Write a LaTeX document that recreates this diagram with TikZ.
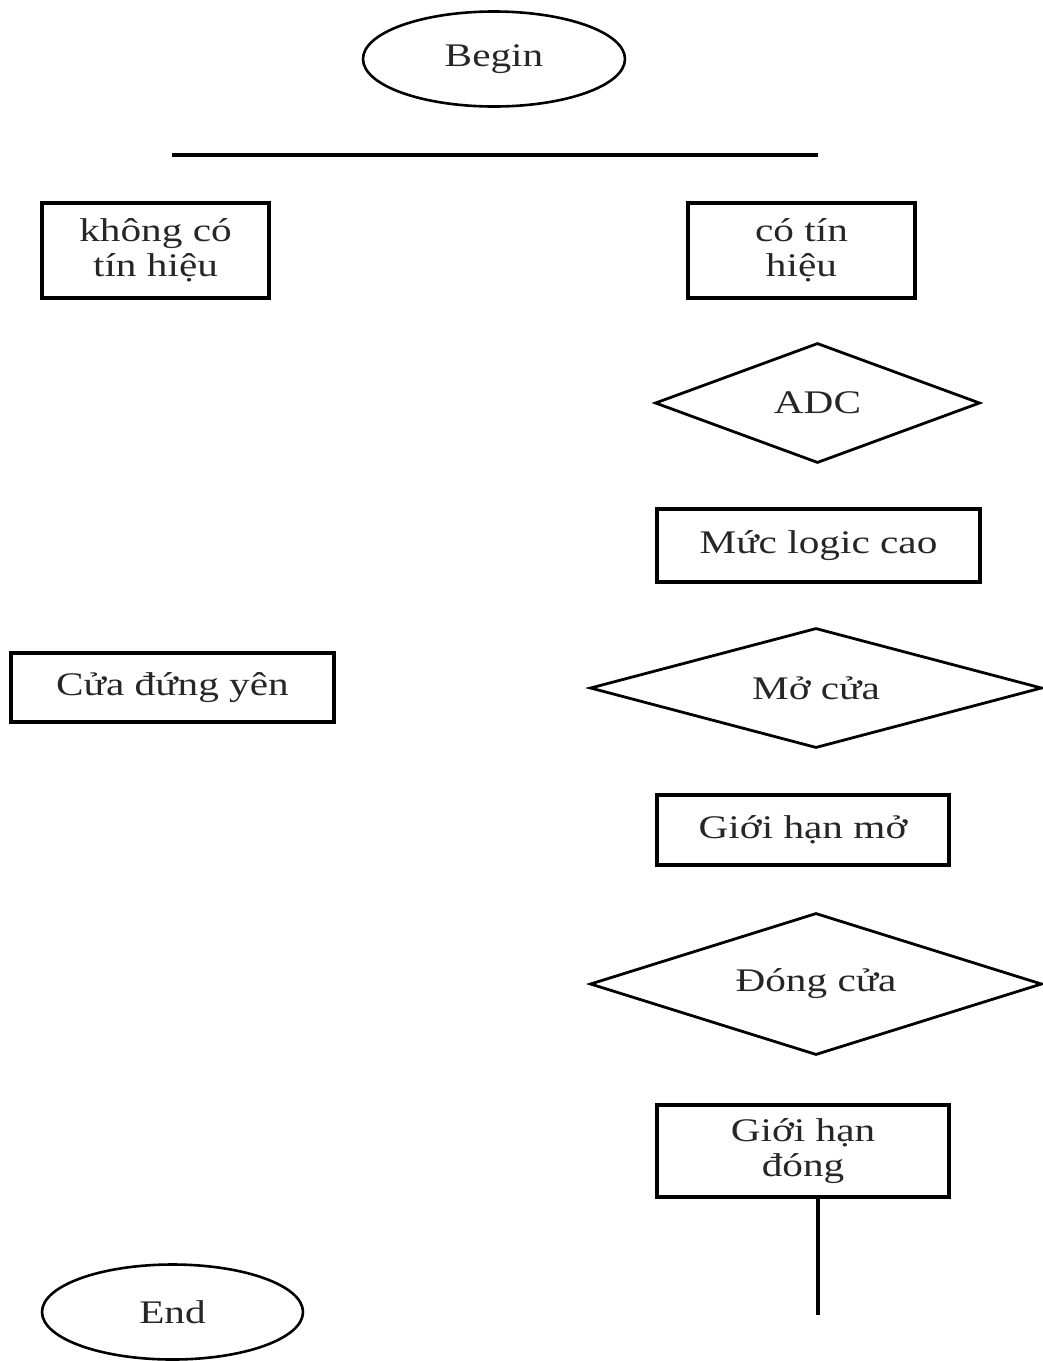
\documentclass[tikz,border=0pt]{standalone}
\usepackage{fontspec}
\setmainfont{Liberation Serif}[FakeStretch=1.25]
\usetikzlibrary{shapes.geometric}
\begin{document}
\begin{tikzpicture}[x=1pt,y=-1pt,
  txt/.style={font=\fontsize{33}{35}\selectfont, align=center, text=black!85},
  boxnode/.style={txt, draw, line width=3.4pt, inner sep=0pt},
  oval/.style={txt, draw, ellipse, line width=2.6pt, inner sep=0pt},
  decision/.style={txt, draw, diamond, line width=2.8pt, inner sep=0pt},
  conn/.style={line width=3.4pt}]
\useasboundingbox (0,0) rectangle (1043,1361);
\node[oval, minimum width=262pt, minimum height=95pt] (begin) at (494,59) {Begin};
\coordinate (hl) at (172,155);
\coordinate (hr) at (818,155);
\draw[conn] (hl) -- (hr);
\node[boxnode, minimum width=227pt, minimum height=95pt] (khong) at (155.5,250.5) {không có\\tín hiệu};
\node[boxnode, minimum width=227pt, minimum height=95pt] (co) at (801.5,250.5) {có tín\\hiệu};
\node[decision, aspect=2.7, minimum width=325pt, minimum height=120pt] (adc) at (817.5,403) {ADC};
\node[boxnode, minimum width=323pt, minimum height=73pt] (muc) at (818.5,545.5) {Mức logic cao};
\node[decision, aspect=3.77, minimum width=452pt, minimum height=120pt] (mo) at (816,688) {Mở cửa};
\node[boxnode, minimum width=323pt, minimum height=69pt] (dungyen) at (172.5,687.5) {Cửa đứng yên};
\node[boxnode, minimum width=292pt, minimum height=70pt] (ghmo) at (803,830) {Giới hạn mở};
\node[decision, aspect=3.18, minimum width=452pt, minimum height=142pt] (dong) at (816,984) {Đóng cửa};
\node[boxnode, minimum width=292pt, minimum height=92pt] (ghdong) at (803,1151) {Giới hạn\\đóng};
\coordinate (tail) at (818,1315);
\draw[conn] (ghdong.south -| tail) -- (tail);
\node[oval, minimum width=261pt, minimum height=95pt] (end) at (172.5,1312) {End};
\end{tikzpicture}
\end{document}
